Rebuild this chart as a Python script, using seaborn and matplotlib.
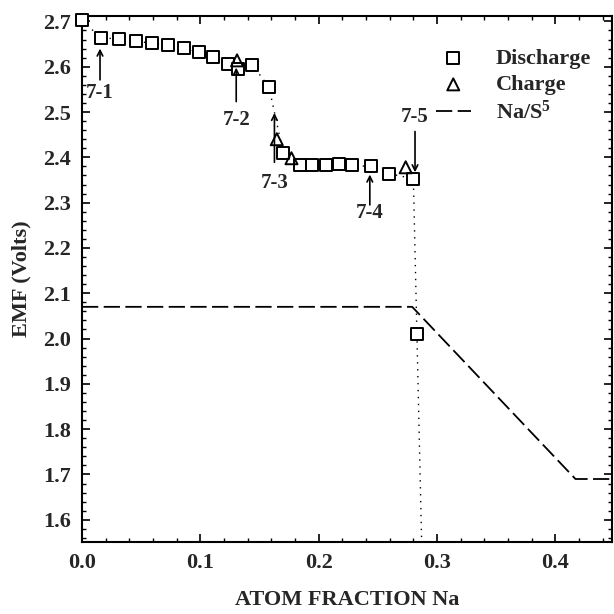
import matplotlib
matplotlib.use("Agg")
import matplotlib.pyplot as plt
from matplotlib.ticker import MultipleLocator
import pandas as pd
import seaborn as sns

# --- data ---
discharge_x = [0.0, 0.016, 0.031, 0.046, 0.059, 0.073, 0.086, 0.099, 0.111, 0.123,
               0.132, 0.144, 0.158, 0.170, 0.184, 0.194, 0.206, 0.217, 0.228, 0.244,
               0.259, 0.280, 0.283]
discharge_y = [2.703, 2.663, 2.662, 2.656, 2.652, 2.647, 2.641, 2.632, 2.621, 2.607,
               2.596, 2.604, 2.555, 2.410, 2.384, 2.383, 2.383, 2.386, 2.382, 2.380,
               2.364, 2.353, 2.010]

charge_x = [0.131, 0.1646, 0.177, 0.2735]
charge_y = [2.614, 2.440, 2.398, 2.378]

# dotted guide through the discharge curve, running to the bottom axis
guide_x = discharge_x + [0.287]
guide_y = discharge_y + [1.55]

# Na/S reference curve (ref. 5)
ref_x = [0.0, 0.279, 0.417, 0.448]
ref_y = [2.07, 2.07, 1.69, 1.69]

# arrow labels: (label, x, tail y, tip y, label y)
arrows = [
    ("7-1", 0.0152, 2.571, 2.640, 2.543),
    ("7-2", 0.1303, 2.523, 2.598, 2.483),
    ("7-3", 0.1626, 2.389, 2.498, 2.344),
    ("7-4", 0.2432, 2.295, 2.362, 2.278),
    ("7-5", 0.2814, 2.457, 2.367, 2.490),
]

sns.set_style("ticks")
plt.rcParams["font.family"] = ["Liberation Serif", "DejaVu Serif"]
plt.rcParams["font.weight"] = "bold"
plt.rcParams["mathtext.fontset"] = "custom"
plt.rcParams["mathtext.rm"] = "Liberation Serif:bold"
plt.rcParams["mathtext.default"] = "rm"

fig = plt.figure(figsize=(6.14, 6.14), dpi=100)
ax = fig.add_axes([0.1336, 0.1173, 0.8634, 0.8567])

guide = pd.DataFrame({"x": guide_x, "y": guide_y})
sns.lineplot(data=guide, x="x", y="y", ax=ax, sort=False, estimator=None,
             color="black", lw=1.0, linestyle=(0, (1, 4)))

ref = pd.DataFrame({"x": ref_x, "y": ref_y})
sns.lineplot(data=ref, x="x", y="y", ax=ax, sort=False, estimator=None,
             color="black", lw=1.3, label="Na/S$^5$")
ax.lines[-1].set_dashes((9, 3))

dis = pd.DataFrame({"x": discharge_x, "y": discharge_y})
sns.scatterplot(data=dis, x="x", y="y", ax=ax, marker="s", s=75,
                facecolor="white", edgecolor="black", linewidth=1.4,
                label="Discharge", zorder=3, clip_on=False)

chg = pd.DataFrame({"x": charge_x, "y": charge_y})
sns.scatterplot(data=chg, x="x", y="y", ax=ax, marker="^", s=75,
                facecolor="none", edgecolor="black", linewidth=1.4,
                label="Charge", zorder=4, clip_on=False)

for name, x, tail, tip, ly in arrows:
    ax.annotate("", xy=(x, tip), xytext=(x, tail),
                arrowprops=dict(arrowstyle="->", color="black", lw=1.2,
                                shrinkA=0, shrinkB=0))
    ax.text(x, ly, name, ha="center", va="center", fontsize=15, fontweight="bold")

handles, labels = ax.get_legend_handles_labels()
order = [labels.index("Discharge"), labels.index("Charge"), labels.index("Na/S$^5$")]
ax.legend([handles[i] for i in order], [labels[i] for i in order],
          loc="upper left", bbox_to_anchor=(0.65, 0.955), frameon=False,
          fontsize=16, handlelength=1.6, handletextpad=1.1, labelspacing=0.25,
          borderaxespad=0)

ax.set_xlim(0, 0.448)
ax.set_ylim(1.551, 2.712)
ax.xaxis.set_major_locator(MultipleLocator(0.1))
ax.xaxis.set_minor_locator(MultipleLocator(0.02))
ax.yaxis.set_major_locator(MultipleLocator(0.1))
ax.yaxis.set_minor_locator(MultipleLocator(0.02))
ax.xaxis.set_major_formatter(lambda v, p: f"{v:.1f}")
ax.yaxis.set_major_formatter(lambda v, p: f"{v:.1f}")
ax.tick_params(which="both", direction="in", top=True, right=True, color="black")
ax.tick_params(which="major", length=6, width=1.2, labelsize=16, pad=8)
ax.tick_params(which="minor", length=3, width=1.0)
for lab in ax.get_xticklabels() + ax.get_yticklabels():
    lab.set_fontweight("bold")
for sp in ax.spines.values():
    sp.set_linewidth(1.5)
    sp.set_color("black")

ax.set_xlabel("ATOM FRACTION Na", fontsize=16, fontweight="bold", labelpad=12)
ax.set_ylabel("EMF (Volts)", fontsize=16, fontweight="bold", labelpad=8)

fig.savefig("out.png", dpi=100)
